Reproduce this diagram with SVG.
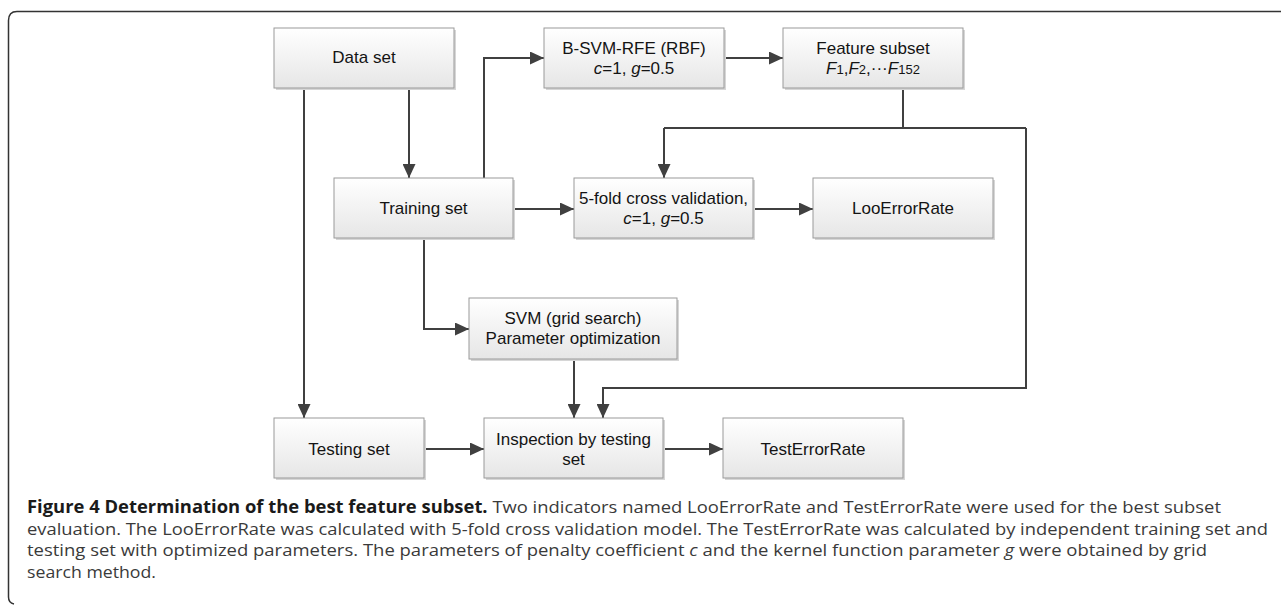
<svg xmlns="http://www.w3.org/2000/svg" width="1281" height="605" viewBox="0 0 1281 605">
<defs>
<linearGradient id="bg" x1="0" y1="0" x2="0" y2="1">
<stop offset="0" stop-color="#ffffff"/>
<stop offset="1" stop-color="#e6e6e6"/>
</linearGradient>
<marker id="ah" viewBox="0 0 14 13" refX="14" refY="6.5" markerWidth="7" markerHeight="6.5" orient="auto" markerUnits="strokeWidth">
<path d="M0,0 L14,6.5 L0,13 z" fill="#404040"/>
</marker>
</defs>
<style>
.box{fill:url(#bg);stroke:#9a9a9a;stroke-width:1}
.sh{fill:#d6d6d6}
.t{font-family:"Liberation Sans",Arial,sans-serif;font-size:17px;fill:#141414;text-anchor:middle}
.c{fill:none;stroke:#404040;stroke-width:2}
.a{marker-end:url(#ah)}
.cap{font-family:"Open Sans","Noto Sans",sans-serif;font-size:17px;fill:#3a3a3a}
.sub{font-size:13px}
</style>
<rect width="1281" height="605" fill="#fff"/>
<path d="M1281,11.5 L17,11.5 Q8.5,11.5 8.5,20.5 L8.5,597 Q8.5,603 14,604" fill="none" stroke="#333" stroke-width="1.5"/>

<g id="connectors">
<path class="c a" d="M304,88 L304,418"/>
<path class="c a" d="M409,88 L409,178"/>
<path class="c a" d="M484,178 L484,58 L544,58"/>
<path class="c a" d="M513,209 L574,209"/>
<path class="c a" d="M724,58 L783,58"/>
<path class="c" d="M903,88 L903,128"/>
<path class="c a" d="M664,128 L664,178"/>
<path class="c" d="M664,128 L1026,128"/>
<path class="c a" d="M1026,128 L1026,388 L603,388 L603,418"/>
<path class="c a" d="M753,209 L813,209"/>
<path class="c a" d="M424,238 L424,329 L469,329"/>
<path class="c a" d="M574,359 L574,418"/>
<path class="c a" d="M424,449 L484,449"/>
<path class="c a" d="M663,449 L723,449"/>
</g>

<g id="data-set">
<rect class="sh" x="276" y="30" width="180" height="60"/>
<rect class="box" x="274" y="28" width="180" height="60"/>
<text class="t" x="364" y="63">Data set</text>
</g>
<g id="b-svm-rfe">
<rect class="sh" x="546" y="30" width="180" height="60"/>
<rect class="box" x="544" y="28" width="180" height="60"/>
<text class="t" x="634" y="54">B-SVM-RFE (RBF)</text>
<text class="t" x="634" y="74"><tspan font-style="italic">c</tspan>=1, <tspan font-style="italic">g</tspan>=0.5</text>
</g>
<g id="feature-subset">
<rect class="sh" x="785" y="30" width="180" height="60"/>
<rect class="box" x="783" y="28" width="180" height="60"/>
<text class="t" x="873" y="54">Feature subset</text>
<text class="t" x="873" y="74"><tspan font-style="italic">F</tspan><tspan class="sub">1</tspan>,<tspan font-style="italic">F</tspan><tspan class="sub">2</tspan>,···<tspan font-style="italic">F</tspan><tspan class="sub">152</tspan></text>
</g>
<g id="training-set">
<rect class="sh" x="336" y="180" width="179" height="60"/>
<rect class="box" x="334" y="178" width="179" height="60"/>
<text class="t" x="423.5" y="214">Training set</text>
</g>
<g id="cross-validation">
<rect class="sh" x="576" y="180" width="179" height="60"/>
<rect class="box" x="574" y="178" width="179" height="60"/>
<text class="t" x="663.5" y="204">5-fold cross validation,</text>
<text class="t" x="663.5" y="224"><tspan font-style="italic">c</tspan>=1, <tspan font-style="italic">g</tspan>=0.5</text>
</g>
<g id="loo-error-rate">
<rect class="sh" x="815" y="180" width="180" height="60"/>
<rect class="box" x="813" y="178" width="180" height="60"/>
<text class="t" x="903" y="214">LooErrorRate</text>
</g>
<g id="svm-grid">
<rect class="sh" x="471" y="300" width="208" height="61"/>
<rect class="box" x="469" y="298" width="208" height="61"/>
<text class="t" x="573" y="324">SVM (grid search)</text>
<text class="t" x="573" y="344">Parameter optimization</text>
</g>
<g id="testing-set">
<rect class="sh" x="276" y="420" width="150" height="60"/>
<rect class="box" x="274" y="418" width="150" height="60"/>
<text class="t" x="349" y="455">Testing set</text>
</g>
<g id="inspection">
<rect class="sh" x="486" y="420" width="179" height="60"/>
<rect class="box" x="484" y="418" width="179" height="60"/>
<text class="t" x="573.5" y="445">Inspection by testing</text>
<text class="t" x="573.5" y="465">set</text>
</g>
<g id="test-error-rate">
<rect class="sh" x="725" y="420" width="180" height="60"/>
<rect class="box" x="723" y="418" width="180" height="60"/>
<text class="t" x="813" y="455">TestErrorRate</text>
</g>

<g id="caption">
<text class="cap" x="27" y="513" textLength="1194" lengthAdjust="spacingAndGlyphs"><tspan font-weight="bold" fill="#1a1a1a">Figure 4 Determination of the best feature subset.</tspan> Two indicators named LooErrorRate and TestErrorRate were used for the best subset</text>
<text class="cap" x="27" y="535" textLength="1241" lengthAdjust="spacingAndGlyphs">evaluation. The LooErrorRate was calculated with 5-fold cross validation model. The TestErrorRate was calculated by independent training set and</text>
<text class="cap" x="27" y="556" textLength="1180" lengthAdjust="spacingAndGlyphs">testing set with optimized parameters. The parameters of penalty coefficient <tspan font-style="italic">c</tspan> and the kernel function parameter <tspan font-style="italic">g</tspan> were obtained by grid</text>
<text class="cap" x="27" y="578" textLength="129" lengthAdjust="spacingAndGlyphs">search method.</text>
</g>
</svg>
